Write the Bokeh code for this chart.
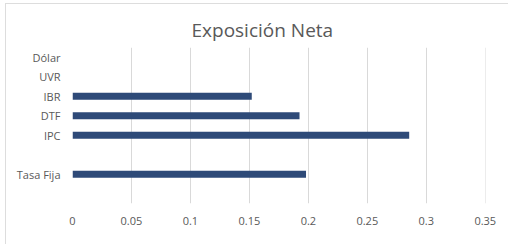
from bokeh.plotting import figure
from bokeh.models import FactorRange, Range1d, ColumnDataSource, FixedTicker, InlineStyleSheet
from bokeh.embed import file_html
from bokeh.resources import INLINE

# Data
categories = ["Tasa Fija", "IPC", "DTF", "IBR", "UVR", "Dólar"]
values = [0.198, 0.2855, 0.1925, 0.152, 0.0, 0.0]
axis_factors = ["  ", "Tasa Fija", " ", "IPC", "DTF", "IBR", "UVR", "Dólar"]
x_ticks = [0, 0.05, 0.1, 0.15, 0.2, 0.25, 0.3, 0.35]
x_tick_labels = ["0", "0.05", "0.1", "0.15", "0.2", "0.25", "0.3", "0.35"]
title_text = "Exposición Neta"

FONT = "Open Sans"
TXT = "#595959"
GRID = "#D9D9D9"
BAR = "#2E4A78"

src = ColumnDataSource(dict(cat=categories, val=values))

p = figure(
    width=508, height=244,
    y_range=FactorRange(factors=axis_factors, range_padding=0),
    x_range=Range1d(0, 0.3502),
    output_backend="svg", toolbar_location=None,
    min_border_left=72, min_border_right=23, min_border_top=47, min_border_bottom=41,
)

p.hbar(y="cat", left=0, right="val", height=0.37, source=src,
       fill_color=BAR, line_color=None)

p.title.text = title_text
p.title.align = "left"
p.title.offset = 119
p.title.text_font = FONT
p.title.text_font_size = "19px"
p.title.text_font_style = "normal"
p.title.text_color = TXT

# faint chart-area border (top and left edges visible in the crop)
p.stylesheets = [InlineStyleSheet(css="""
:host::after {
  content: "";
  position: absolute;
  left: 5px; top: 3px; width: 600px; height: 400px;
  border-top: 1.5px solid #DDDDDD;
  border-left: 1.5px solid #DDDDDD;
  pointer-events: none;
}
""")]

p.outline_line_color = None
p.ygrid.grid_line_color = None
p.xgrid.grid_line_color = GRID
p.xgrid.grid_line_width = 1
p.xaxis.ticker = FixedTicker(ticks=x_ticks)
p.xaxis.major_label_overrides = {t: l for t, l in zip(x_ticks, x_tick_labels)}

for ax in (p.xaxis[0], p.yaxis[0]):
    ax.axis_line_color = None
    ax.major_tick_line_color = None
    ax.minor_tick_line_color = None
    ax.major_tick_out = 0
    ax.major_tick_in = 0
    ax.major_label_text_font = FONT
    ax.major_label_text_font_size = "11px"
    ax.major_label_text_color = TXT

p.xaxis.major_label_standoff = 13
p.yaxis.major_label_standoff = 12

open("out.html", "w").write(file_html(p, INLINE))
